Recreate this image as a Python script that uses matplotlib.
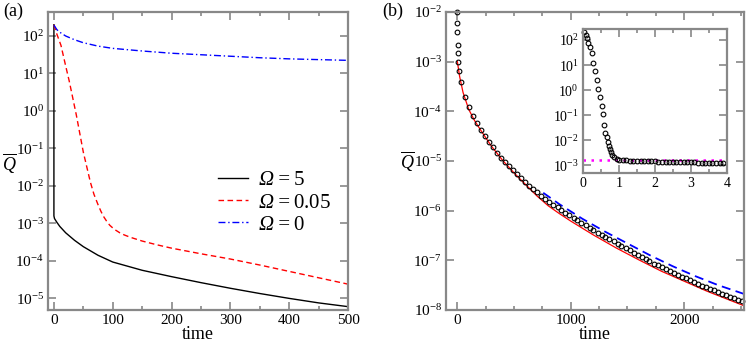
import numpy as np
import matplotlib
matplotlib.use("Agg")
from matplotlib import pyplot as plt
from matplotlib.ticker import NullLocator, MultipleLocator

plt.rcParams['font.family'] = ['Liberation Serif', 'DejaVu Serif']
plt.rcParams['mathtext.fontset'] = 'custom'
plt.rcParams['mathtext.rm'] = 'Liberation Serif:italic'
plt.rcParams['mathtext.it'] = 'Liberation Serif:italic'
plt.rcParams['mathtext.sf'] = 'Liberation Serif'

# panel (a): log10 of Q-bar
t_omega5 = [0, 0, 1, 5, 10, 20, 35, 50, 75, 100, 150, 200, 250, 300, 350, 400, 450, 500]
q_omega5 = [2.3, -2.80, -2.87, -2.97, -3.08, -3.25, -3.45, -3.62, -3.85, -4.03, -4.25,
            -4.42, -4.58, -4.73, -4.87, -5.0, -5.12, -5.22]
t_omega005 = [0, 5, 12, 20, 26, 32, 38, 44, 50, 56, 62, 68, 75, 80, 85, 90, 95, 100, 105,
              112, 120, 130, 150, 175, 200, 250, 300, 350, 400, 450, 500]
q_omega005 = [2.3, 2.05, 1.75, 1.2, 0.8, 0.35, -0.1, -0.6, -1.1, -1.5, -1.9, -2.22, -2.5,
              -2.68, -2.83, -2.95, -3.05, -3.12, -3.18, -3.25, -3.31, -3.37, -3.47, -3.57,
              -3.66, -3.81, -3.95, -4.11, -4.28, -4.45, -4.62]
t_omega0 = [0, 5, 10, 20, 35, 50, 75, 100, 150, 200, 250, 300, 350, 400, 450, 500]
q_omega0 = [2.29, 2.17, 2.1, 2.0, 1.9, 1.82, 1.73, 1.67, 1.6, 1.54, 1.5, 1.46, 1.42, 1.39,
            1.37, 1.35]

# panel (b): circles (simulation), red line, blue dashed line
t_circ = [0, 0.5, 1, 2, 3, 6, 18, 35, 71, 106, 141, 176, 212, 247, 282, 318, 353, 388, 424,
          459, 494, 529, 565, 600, 635, 671, 706, 741, 777, 812, 847, 883, 918, 953, 988,
          1024, 1059, 1094, 1130, 1165, 1200, 1236, 1271, 1306, 1341, 1377, 1412, 1447,
          1483, 1518, 1553, 1589, 1624, 1659, 1694, 1730, 1765, 1800, 1836, 1871, 1906,
          1942, 1977, 2012, 2047, 2083, 2118, 2153, 2189, 2224, 2259, 2295, 2330, 2365,
          2400, 2436, 2471, 2506]
q_circ = [-2.0, -2.23, -2.40, -2.66, -2.82, -3.0, -3.18, -3.41, -3.71, -3.92, -4.10, -4.24,
          -4.38, -4.50, -4.61, -4.72, -4.83, -4.93, -5.02, -5.10, -5.19, -5.27, -5.35,
          -5.43, -5.50, -5.57, -5.63, -5.70, -5.76, -5.82, -5.88, -5.93, -5.99, -6.04,
          -6.09, -6.14, -6.19, -6.24, -6.29, -6.34, -6.39, -6.44, -6.49, -6.53, -6.58,
          -6.62, -6.67, -6.71, -6.76, -6.80, -6.85, -6.89, -6.93, -6.98, -7.02, -7.07,
          -7.10, -7.14, -7.18, -7.22, -7.25, -7.29, -7.33, -7.36, -7.40, -7.43, -7.47,
          -7.51, -7.54, -7.57, -7.60, -7.64, -7.67, -7.70, -7.73, -7.76, -7.79, -7.82]
t_red = [0, 20, 50, 100, 150, 200, 300, 400, 500, 600, 700, 800, 900, 1000, 1200, 1400,
         1600, 1800, 2000, 2200, 2400, 2545]
q_red = [-3.0, -3.30, -3.62, -3.96, -4.18, -4.36, -4.70, -4.99, -5.24, -5.47, -5.70, -5.90,
         -6.06, -6.21, -6.49, -6.75, -6.99, -7.22, -7.42, -7.62, -7.80, -7.93]
t_blue = [757, 900, 1100, 1300, 1500, 1700, 1900, 2100, 2300, 2545]
q_blue = [-5.64, -5.87, -6.16, -6.42, -6.66, -6.90, -7.12, -7.32, -7.50, -7.69]

# inset
t_ins = [0.02, 0.08, 0.11, 0.14, 0.19, 0.24, 0.28, 0.33, 0.38, 0.42, 0.47, 0.52, 0.56, 0.59,
         0.62, 0.66, 0.69, 0.71, 0.74, 0.77, 0.82, 0.87, 0.94, 1.0, 1.1, 1.2, 1.3, 1.4, 1.5,
         1.6, 1.7, 1.8, 1.9, 2.0, 2.1, 2.2, 2.3, 2.4, 2.5, 2.6, 2.7, 2.8, 2.9, 3.0, 3.1,
         3.2, 3.3, 3.4, 3.5, 3.6, 3.7, 3.8, 3.9]
q_ins = [2.33, 2.20, 2.07, 1.89, 1.71, 1.47, 1.07, 0.78, 0.40, 0.03, -0.29, -0.63, -0.97,
         -1.39, -1.70, -1.88, -2.06, -2.22, -2.35, -2.46, -2.59, -2.68, -2.75, -2.79, -2.80,
         -2.80, -2.81, -2.81, -2.82, -2.82, -2.83, -2.83, -2.84, -2.84, -2.85, -2.85, -2.85,
         -2.86, -2.86, -2.87, -2.87, -2.87, -2.88, -2.88, -2.88, -2.89, -2.89, -2.89, -2.89,
         -2.90, -2.90, -2.90, -2.90]
q_plateau = -2.78

# decades shown on each y axis
dec_a = [-5, -4, -3, -2, -1, 0, 1, 2]
dec_b = [-8, -7, -6, -5, -4, -3, -2]
dec_ins = [-3, -2, -1, 0, 1, 2]

frame = '#888888'


def style(ax, size, decades):
    for s in ax.spines.values():
        s.set_color(frame)
        s.set_linewidth(1.6)
    ax.set_yscale('log')
    ax.set_yticks([10.0 ** d for d in decades])
    ax.yaxis.set_minor_locator(NullLocator())
    ax.tick_params(which='both', direction='in', top=True, right=True, color=frame,
                   width=1.2, labelsize=size, pad=3)
    ax.tick_params(which='major', length=6)
    ax.tick_params(which='minor', length=3)


fig = plt.figure(figsize=(7.47, 3.44), dpi=100)

ax1 = fig.add_axes([0.0643, 0.0988, 0.4016, 0.8663])
style(ax1, 11, dec_a)
ax1.plot(t_omega5, 10 ** np.array(q_omega5), color='black', lw=1.0, label=r'$\Omega = \mathsf{5}$')
ax1.plot(t_omega005, 10 ** np.array(q_omega005), color='red', lw=1.0, ls=(0, (4, 2.5)),
         label=r'$\Omega = \mathsf{0.05}$')
ax1.plot(t_omega0, 10 ** np.array(q_omega0), color='blue', lw=1.0, ls=(0, (5, 2, 1, 2)),
         label=r'$\Omega = \mathsf{0}$')
ax1.set_xlim(-10, 500)
ax1.set_ylim(10 ** -5.31, 10 ** 2.64)
ax1.xaxis.set_major_locator(MultipleLocator(100))
ax1.xaxis.set_minor_locator(MultipleLocator(50))
ax1.set_xlabel('time', fontsize=13, labelpad=-1)
ax1.set_ylabel(r'$\overline{Q}$', fontsize=13, rotation=0, ha='center', va='center')
ax1.yaxis.set_label_coords(-0.127, 0.493)
ax1.legend(loc='center left', bbox_to_anchor=(0.565, 0.36), frameon=False, fontsize=15,
           handlelength=1.45, handletextpad=0.5, labelspacing=0.12, borderpad=0,
           borderaxespad=0)
fig.text(0.004, 0.955, '(a)', fontsize=13)

ax2 = fig.add_axes([0.5971, 0.0988, 0.3993, 0.8663])
style(ax2, 11, dec_b)
ax2.plot(t_red, 10 ** np.array(q_red), color='red', lw=0.9)
ax2.plot(t_blue, 10 ** np.array(q_blue), color='blue', lw=1.3, ls=(0, (5, 3)))
ax2.plot(t_circ, 10 ** np.array(q_circ), ls='none', marker='o', ms=3.4, mfc='none',
         mec='black', mew=0.8, clip_on=False)
ax2.set_xlim(-100, 2530)
ax2.set_ylim(1e-8, 1e-2)
ax2.xaxis.set_major_locator(MultipleLocator(1000))
ax2.xaxis.set_minor_locator(MultipleLocator(250))
ax2.set_xlabel('time', fontsize=13, labelpad=-1)
ax2.set_ylabel(r'$\overline{Q}$', fontsize=13, rotation=0, ha='center', va='center')
ax2.yaxis.set_label_coords(-0.129, 0.5)
fig.text(0.512, 0.955, '(b)', fontsize=13)

ax3 = fig.add_axes([0.7805, 0.4962, 0.1924, 0.4195])
style(ax3, 10, dec_ins)
ax3.axhline(10 ** q_plateau, color='magenta', lw=1.8, ls=(0, (1, 2.2)))
ax3.plot(t_ins, 10 ** np.array(q_ins), ls='none', marker='o', ms=3.4, mfc='none',
         mec='black', mew=0.8, clip_on=False)
ax3.set_xlim(0, 4)
ax3.set_ylim(10 ** -3.32, 10 ** 2.44)
ax3.xaxis.set_major_locator(MultipleLocator(1))
ax3.xaxis.set_minor_locator(MultipleLocator(0.5))

fig.savefig('out.png', dpi=100)
